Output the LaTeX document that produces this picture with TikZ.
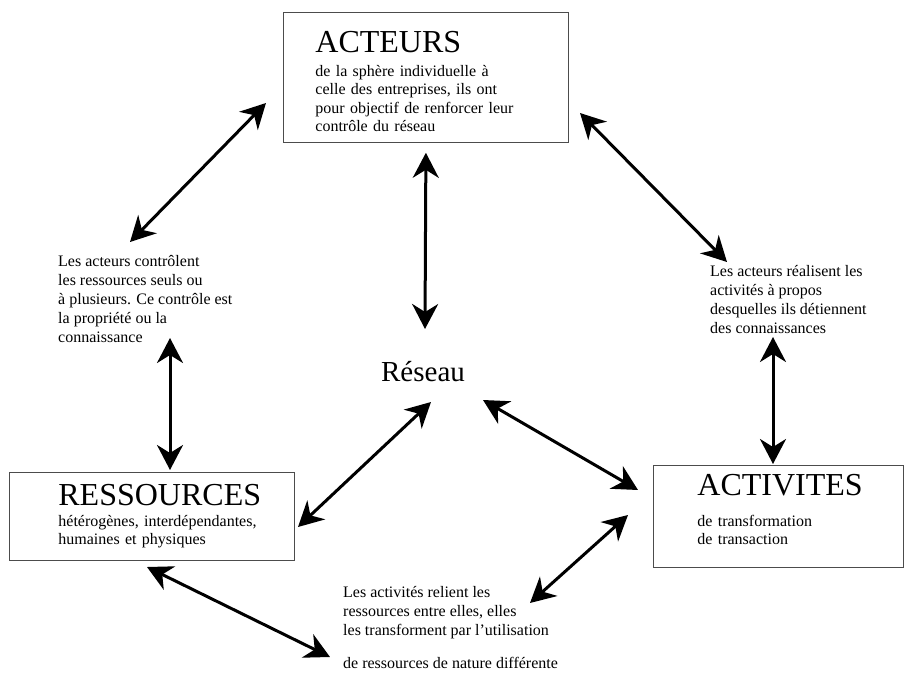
\documentclass[tikz,border=0pt]{standalone}
\usepackage{fontspec}
\setmainfont{Liberation Serif}
\usetikzlibrary{arrows.meta}
\newcommand{\titre}[1]{{\fontsize{32}{32}\selectfont #1}}

\begin{document}
\begin{tikzpicture}[x=1pt,y=-1pt,
            boite/.style={draw=black!70,line width=0.8pt,anchor=north west,inner sep=0pt,align=left,font=\fontsize{16}{18.5}\selectfont},
            note/.style={anchor=north west,inner sep=0pt,align=left,font=\fontsize{16}{19}\selectfont},
            fleche/.style={line width=3pt,{Stealth[length=25pt,width=26pt,inset=8pt]}-{Stealth[length=25pt,width=26pt,inset=8pt]}}]
            \useasboundingbox (0,0) rectangle (906,673);
            % les trois boites
            \node[boite,text width=285pt,minimum height=130pt] (acteurs) at (283,12)
                {\leftskip=32pt \titre{\rule{0pt}{30pt}ACTEURS}\\[5pt] de la sphère individuelle à\\ celle des entreprises, ils ont\\ pour objectif de renforcer leur\\ contrôle du réseau\par};
            \node[boite,text width=285pt,minimum height=88pt] (ressources) at (9,472)
                {\leftskip=49pt \titre{RESSOURCES}\\[2pt] hétérogènes, interdépendantes,\\ humaines et physiques\par};
            \node[boite,text width=250pt,minimum height=102pt] (activites) at (653,465)
                {\leftskip=44pt \titre{ACTIVITES}\\[12pt] de transformation\\ de transaction\rule[-14pt]{0pt}{14pt}\par};
            \node[font=\fontsize{29}{29}\selectfont] (reseau) at (423,372) {Réseau};
            % les textes entre les boites
            \node[note] (lnote) at (58,255) {Les acteurs contrôlent\\ les ressources seuls ou\\ à plusieurs. Ce contrôle est\\ la propriété ou la\\ connaissance};
            \node[note] (rnote) at (710,265) {Les acteurs réalisent les\\ activités à propos\\ desquelles ils détiennent\\ des connaissances};
            \node[note] (bnote) at (343,586) {Les activités relient les\\ ressources entre elles, elles\\ les transforment par l'utilisation\\[14pt] de ressources de nature différente};
            % les fleches
            \draw[fleche] ([shift={(-17,91)}]acteurs.north west) -- ([shift={(72,-13)}]lnote.north west);
            \draw[fleche] ([shift={(297,101)}]acteurs.north west) -- ([shift={(17,-3)}]rnote.north west);
            \draw[fleche] ([shift={(0,10)}]acteurs.south) -- ([shift={(2,-43)}]reseau.center);
            \draw[fleche] ([shift={(112,83)}]lnote.north west) -- ([shift={(161,-2)}]ressources.north west);
            \draw[fleche] ([shift={(63,72)}]rnote.north west) -- ([shift={(120,-1)}]activites.north west);
            \draw[fleche] ([shift={(8,30)}]reseau.center) -- ([shift={(289,55)}]ressources.north west);
            \draw[fleche] ([shift={(60,28)}]reseau.center) -- ([shift={(-15,25)}]activites.north west);
            \draw[fleche] ([shift={(-25,50)}]activites.north west) -- ([shift={(187,17)}]bnote.north west);
            \draw[fleche] ([shift={(138,95)}]ressources.north west) -- ([shift={(-13,71)}]bnote.north west);
        \end{tikzpicture}
\end{document}
